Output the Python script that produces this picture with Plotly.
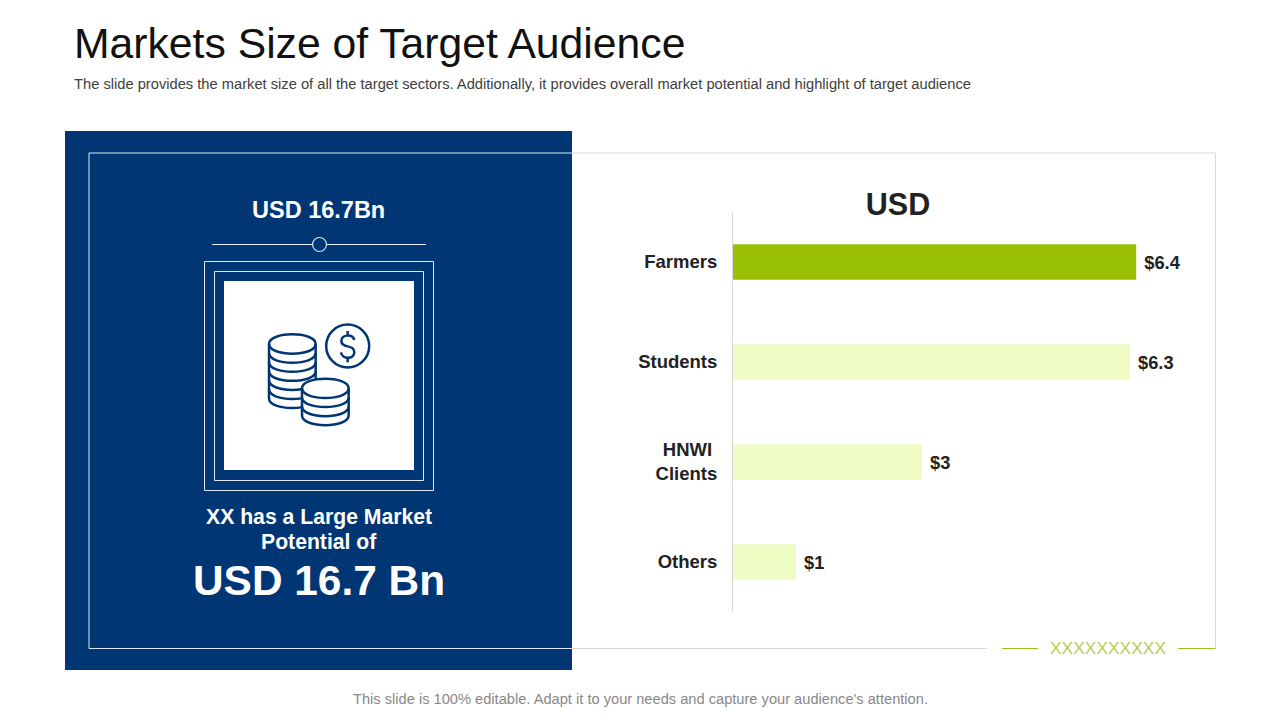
import plotly.graph_objects as go

categories = ["Farmers", "Students", "HNWI\u00a0<br>Clients", "Others"]
values = [6.4, 6.3, 3, 1]
value_labels = ["$6.4", "$6.3", "$3", "$1"]
bar_colors = ["#99c005", "#eefbc2", "#eefbc2", "#eefbc2"]

BLUE = "#003673"
GRAY = "#d9d9d9"
GREEN = "#9cbf1b"
FONT = "Liberation Sans"
W, H = 1280, 720


def px(x):
    return x / W


def py(y):
    return 1 - y / H


shapes = []


def rect(x0, y0, x1, y1, fill=None, line=None, width=1):
    shapes.append(dict(type="rect", xref="paper", yref="paper", layer="below",
                       x0=px(x0), x1=px(x1), y0=py(y0), y1=py(y1),
                       fillcolor=fill or "rgba(0,0,0,0)",
                       line=dict(color=line or "rgba(0,0,0,0)", width=width if line else 0)))


def seg(x0, y0, x1, y1, color, width=1):
    shapes.append(dict(type="line", xref="paper", yref="paper", layer="below",
                       x0=px(x0), x1=px(x1), y0=py(y0), y1=py(y1),
                       line=dict(color=color, width=width)))


def circle(cx, cy, r, fill, color, width):
    shapes.append(dict(type="circle", xref="paper", yref="paper", layer="below",
                       x0=px(cx - r), x1=px(cx + r), y0=py(cy - r), y1=py(cy + r),
                       fillcolor=fill, line=dict(color=color, width=width)))


def zx(v):
    return f"{px(200 + v / 3):.5f}"


def zy(v):
    return f"{py(230 + v / 3):.5f}"


def path(d, fill="rgba(0,0,0,0)", width=2.5):
    shapes.append(dict(type="path", xref="paper", yref="paper", layer="below", path=d,
                       fillcolor=fill, line=dict(color=BLUE, width=width)))


def coin_stack(cx, top, rx, ry, n, step):
    """Outlined stack of coins, in zoom-crop coordinates."""
    k = ry * 4 / 3
    l, r = cx - rx, cx + rx
    bottom = top + n * step
    silhouette = (
        f"M{zx(l)},{zy(top)} C{zx(l)},{zy(top - k)} {zx(r)},{zy(top - k)} {zx(r)},{zy(top)} "
        f"L{zx(r)},{zy(bottom)} C{zx(r)},{zy(bottom + k)} {zx(l)},{zy(bottom + k)} {zx(l)},{zy(bottom)} Z"
    )
    path(silhouette, fill="#ffffff")
    for i in range(n):
        y = top + i * step
        path(f"M{zx(l)},{zy(y)} C{zx(l)},{zy(y + k)} {zx(r)},{zy(y + k)} {zx(r)},{zy(y)}")


# Frame and panel
rect(65, 131, 572, 670, fill=BLUE)
seg(89, 153, 89, 648.5, "#dfe6ef")
seg(89, 153, 572, 153, "#dfe6ef")
seg(89, 648.5, 572, 648.5, "#dfe6ef")
seg(572, 153, 1215.5, 153, GRAY)
seg(1215.5, 153, 1215.5, 648.5, GRAY)
seg(572, 648.5, 987, 648.5, GRAY)
seg(1002, 648.5, 1038, 648.5, GREEN)
seg(1178, 648.5, 1215.5, 648.5, GREEN)

# Connector above the icon
seg(212, 244.5, 312.5, 244.5, "#e4eef8")
seg(326.5, 244.5, 426, 244.5, "#e4eef8")
circle(319.5, 244.5, 7, BLUE, "#cfe4fa", 1.2)

# Icon frames
rect(204.5, 261.5, 433.5, 490.5, line="#dfe9f3")
rect(214.5, 271.5, 423.5, 480.5, line="#dfe9f3")
rect(224, 281, 414, 470, fill="#ffffff")

# Icon
circle(347.7, 346, 21.5, "#ffffff", BLUE, 2.5)
path(
    f"M{zx(463)},{zy(330)} C{zx(458)},{zy(312)} {zx(424)},{zy(312)} {zx(424)},{zy(333)} "
    f"C{zx(424)},{zy(356)} {zx(463)},{zy(342)} {zx(463)},{zy(367)} "
    f"C{zx(463)},{zy(390)} {zx(426)},{zy(388)} {zx(423)},{zy(367)}"
)
path(f"M{zx(443)},{zy(303)} L{zx(443)},{zy(316)}")
path(f"M{zx(443)},{zy(384)} L{zx(443)},{zy(397)}")
coin_stack(277, 342, 70, 29, 6, 27.2)
coin_stack(376, 475, 70, 29, 3, 27.2)


def note(text, x, y, size, color, bold=False, align="center", anchor="center"):
    return dict(text=f"<b>{text}</b>" if bold else text, xref="paper", yref="paper",
                x=px(x), y=py(y), xanchor=anchor, yanchor="middle", align=align,
                showarrow=False, font=dict(family=FONT, size=size, color=color))


annotations = [
    note("Markets Size of Target Audience", 72, 42.5, 42.7, "#111111", anchor="left"),
    note("The slide provides the market size of all the target sectors. Additionally, it provides overall "
         "market potential and highlight of target audience", 72, 84, 14.7, "#404040", anchor="left"),
    note("USD 16.7Bn", 318.5, 210, 23.5, "#ffffff", bold=True),
    note("XX has a Large Market", 318.5, 516.5, 21.2, "#ffffff", bold=True),
    note("Potential of", 318.5, 541.5, 21.2, "#ffffff", bold=True),
    note("USD 16.7 Bn", 319, 580.5, 42.4, "#ffffff", bold=True),
    note("XXXXXXXXXX", 1108, 648, 17.4, "#b4cf55"),
    note("This slide is 100% editable. Adapt it to your needs and capture your audience's attention.",
         640, 699, 14.65, "#888888"),
]

fig = go.Figure(go.Bar(
    x=values,
    y=categories,
    orientation="h",
    marker=dict(color=bar_colors, line=dict(width=0)),
    text=value_labels,
    textposition="outside",
    cliponaxis=False,
    textfont=dict(family=FONT, size=18.3, color="#222222"),
    texttemplate="<b>\u00a0%{text}</b>",
    hoverinfo="x+y",
))

fig.update_layout(
    width=W,
    height=H,
    autosize=False,
    margin=dict(l=0, r=0, t=0, b=0),
    paper_bgcolor="#ffffff",
    plot_bgcolor="rgba(0,0,0,0)",
    showlegend=False,
    bargap=0.645,
    title=dict(text="<b>USD</b>", xref="paper", yref="paper", x=898 / W, y=py(204),
               xanchor="center", yanchor="middle",
               font=dict(family=FONT, size=30.5, color="#222222")),
    xaxis=dict(domain=[733 / W, (733 + 472.5) / W], range=[0, 7.5], visible=False),
    yaxis=dict(domain=[py(612), py(212)], type="category", autorange="reversed",
               showline=True, linecolor=GRAY, linewidth=1, showgrid=False, zeroline=False,
               ticks="outside", ticklen=11, tickcolor="rgba(0,0,0,0)",
               tickfont=dict(family=FONT, size=18.5, color="#222222"),
               tickprefix="<b>", ticksuffix="</b>"),
    shapes=shapes,
    annotations=annotations,
)

fig.write_html("out.html", config={"displayModeBar": False},
               post_script="document.body.style.margin='0';")
